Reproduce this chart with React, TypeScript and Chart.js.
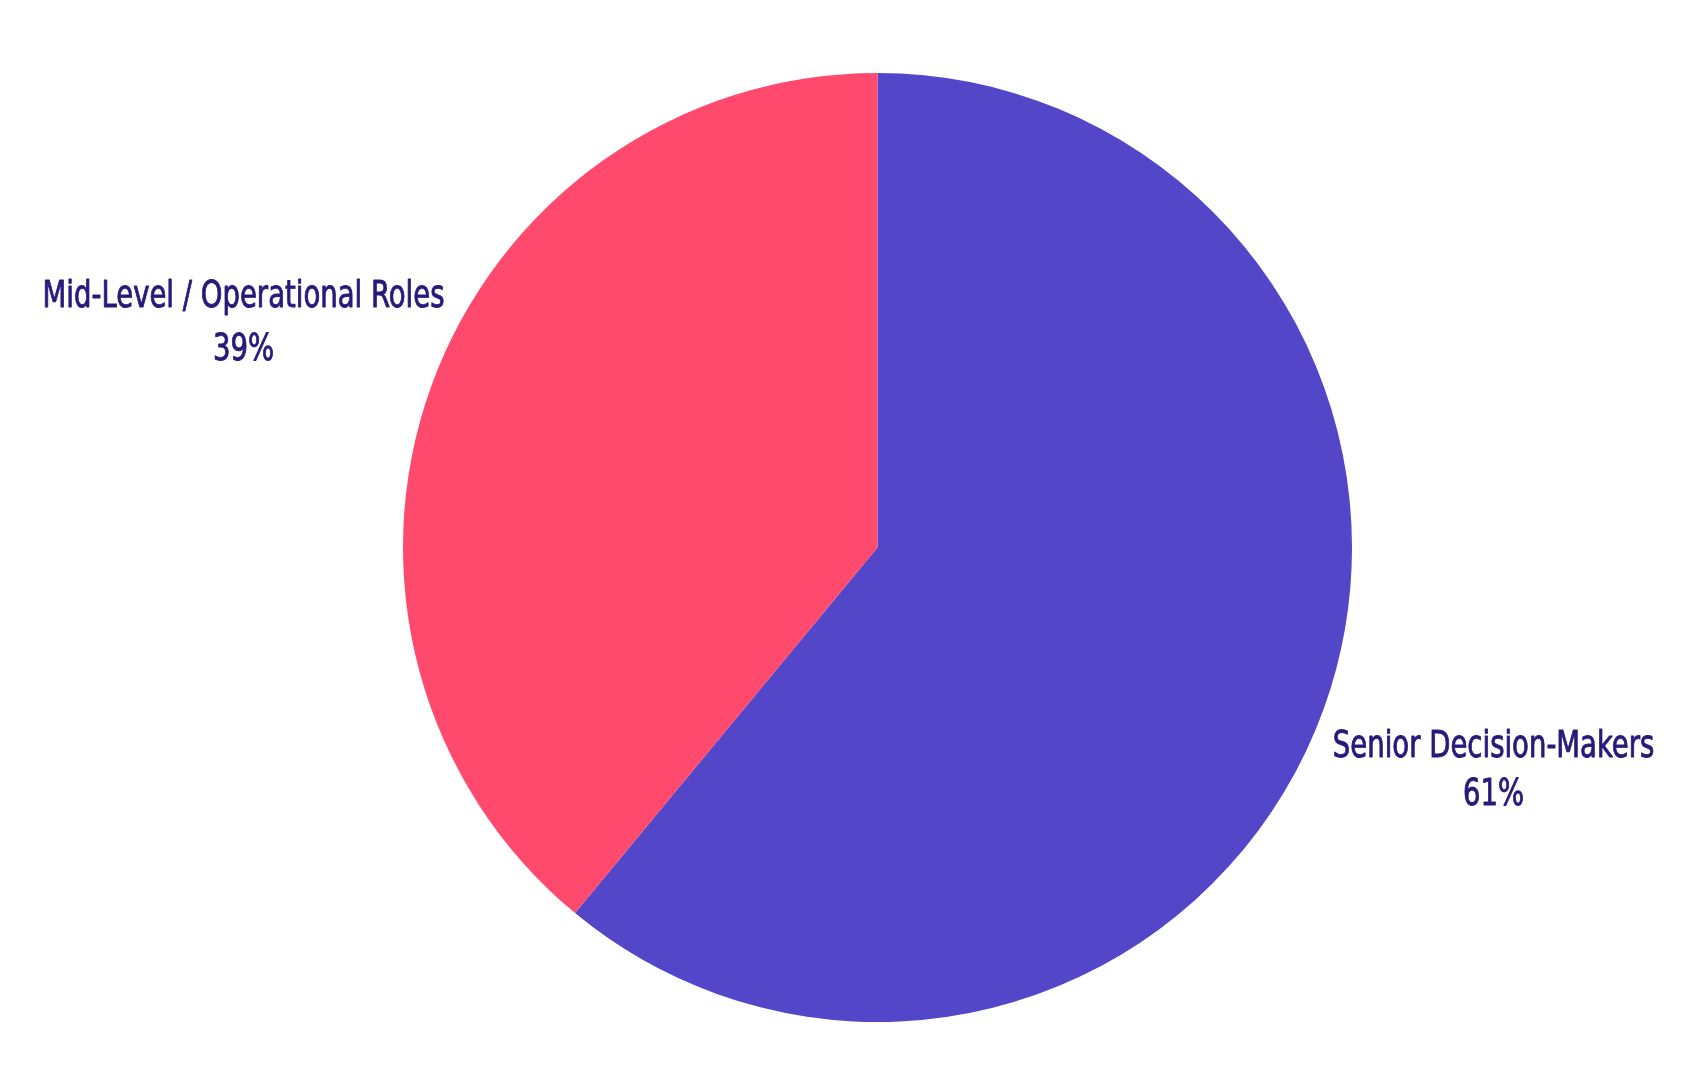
import React, { useEffect, useRef } from "react";
import { Chart, registerables } from "chart.js";

Chart.register(...registerables);

const categories = ["Senior Decision-Makers", "Mid-Level / Operational Roles"];
const values = [61, 39];
const colors = ["#5346C8", "#FF4A6E"];

// label layout per slice (styling only)
const labelStyle = [
  { k: 1.38, top: -12, bottom: 36 },
  { k: 1.42, top: -12, bottom: 41 },
];

const labelPlugin = {
  id: "outerLabels",
  afterDatasetsDraw(chart: any) {
    const { ctx } = chart;
    const meta = chart.getDatasetMeta(0);
    const total = values.reduce((a, b) => a + b, 0);
    meta.data.forEach((arc: any, i: number) => {
      const { x, y, startAngle, endAngle, outerRadius } = arc.getProps(
        ["x", "y", "startAngle", "endAngle", "outerRadius"],
        true
      );
      const st = labelStyle[i];
      const mid = (startAngle + endAngle) / 2;
      const lx = x + Math.cos(mid) * outerRadius * st.k;
      const ly = y + Math.sin(mid) * outerRadius * st.k;
      const pct = Math.round((values[i] / total) * 100) + "%";
      ctx.save();
      ctx.translate(lx, ly);
      ctx.scale(0.805, 1);
      ctx.fillStyle = "#281A7A";
      ctx.strokeStyle = "#281A7A";
      ctx.lineWidth = 0.9;
      ctx.lineJoin = "round";
      ctx.font = "38px 'DejaVu Sans Condensed', 'DejaVu Sans', sans-serif";
      ctx.textAlign = "center";
      ctx.textBaseline = "alphabetic";
      ctx.fillText(categories[i], 0, st.top);
      ctx.strokeText(categories[i], 0, st.top);
      ctx.fillText(pct, 0, st.bottom);
      ctx.strokeText(pct, 0, st.bottom);
      ctx.restore();
    });
  },
};

export default function App() {
  const ref = useRef<HTMLCanvasElement>(null);
  useEffect(() => {
    if (!ref.current) return;
    const chart = new Chart(ref.current, {
      type: "pie",
      data: {
        labels: categories,
        datasets: [
          {
            data: values,
            backgroundColor: colors,
            borderWidth: 0,
          },
        ],
      },
      options: {
        animation: false,
        responsive: true,
        maintainAspectRatio: false,
        layout: { padding: { top: 73, bottom: 60, left: 56, right: 0 } },
        plugins: {
          legend: { display: false },
          tooltip: { enabled: false },
        },
      },
      plugins: [labelPlugin],
    });
    return () => chart.destroy();
  }, []);
  return (
    <div style={{ position: "fixed", left: 0, top: 0, width: "100vw", height: "100vh", background: "#fff" }}>
      <canvas ref={ref} />
    </div>
  );
}
